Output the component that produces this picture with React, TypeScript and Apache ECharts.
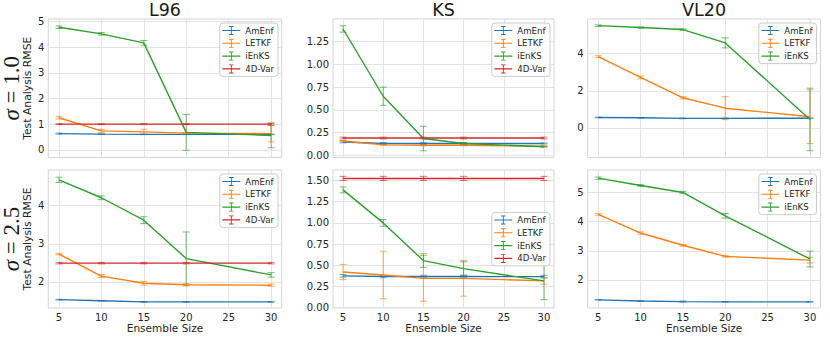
import React, { useEffect, useRef } from "react";
import * as echarts from "echarts";

const ENSEMBLE_SIZES = [5, 10, 15, 20, 30];
const METHODS = ["AmEnf", "LETKF", "iEnKS", "4D-Var"];
const COLORS = ["#1f77b4", "#ff7f0e", "#2ca02c", "#d62728"];
const X_TICKS = [5, 10, 15, 20, 25, 30];
const TITLES = ["L96", "KS", "VL20"];
const ROW_LABELS = ["1.0", "2.5"];

// L96, sigma = 1.0
const L96_S1_AMENF = [0.63, 0.61, 0.6, 0.6, 0.6];
const L96_S1_AMENF_ERR = [0.02, 0.01, 0.01, 0.01, 0.01];
const L96_S1_LETKF = [1.25, 0.74, 0.7, 0.65, 0.63];
const L96_S1_LETKF_ERR = [0.05, 0.06, 0.1, 0.03, 0.32];
const L96_S1_IENKS = [4.78, 4.52, 4.17, 0.68, 0.56];
const L96_S1_IENKS_ERR = [0.05, 0.05, 0.09, 0.7, 0.48];
const L96_S1_4DVAR = [1.0, 1.0, 1.0, 1.0, 1.0];
const L96_S1_4DVAR_ERR = [0.02, 0.02, 0.02, 0.02, 0.04];

// KS, sigma = 1.0
const KS_S1_AMENF = [0.147, 0.13, 0.13, 0.13, 0.13];
const KS_S1_AMENF_ERR = [0.01, 0.01, 0.01, 0.01, 0.005];
const KS_S1_LETKF = [0.158, 0.115, 0.11, 0.11, 0.1];
const KS_S1_LETKF_ERR = [0.005, 0.005, 0.005, 0.005, 0.005];
const KS_S1_IENKS = [1.39, 0.65, 0.185, 0.13, 0.095];
const KS_S1_IENKS_ERR = [0.035, 0.1, 0.135, 0.01, 0.005];
const KS_S1_4DVAR = [0.19, 0.19, 0.19, 0.19, 0.19];
const KS_S1_4DVAR_ERR = [0.01, 0.01, 0.01, 0.01, 0.01];

// VL20, sigma = 1.0
const VL20_S1_AMENF = [0.56, 0.54, 0.51, 0.51, 0.52];
const VL20_S1_AMENF_ERR = [0.02, 0.02, 0.02, 0.02, 0.02];
const VL20_S1_LETKF = [3.84, 2.72, 1.62, 1.06, 0.6];
const VL20_S1_LETKF_ERR = [0.05, 0.08, 0.06, 0.62, 1.45];
const VL20_S1_IENKS = [5.51, 5.41, 5.3, 4.58, 0.45];
const VL20_S1_IENKS_ERR = [0.04, 0.03, 0.04, 0.27, 1.69];

// L96, sigma = 2.5
const L96_S2_AMENF = [1.53, 1.5, 1.47, 1.47, 1.47];
const L96_S2_AMENF_ERR = [0.01, 0.01, 0.01, 0.01, 0.01];
const L96_S2_LETKF = [2.73, 2.15, 1.96, 1.92, 1.91];
const L96_S2_LETKF_ERR = [0.02, 0.04, 0.05, 0.03, 0.03];
const L96_S2_IENKS = [4.68, 4.21, 3.62, 2.61, 2.18];
const L96_S2_IENKS_ERR = [0.07, 0.05, 0.09, 0.7, 0.06];
const L96_S2_4DVAR = [2.49, 2.49, 2.49, 2.49, 2.49];
const L96_S2_4DVAR_ERR = [0.02, 0.02, 0.02, 0.02, 0.02];

// KS, sigma = 2.5
const KS_S2_AMENF = [0.375, 0.367, 0.367, 0.367, 0.365];
const KS_S2_AMENF_ERR = [0.015, 0.015, 0.015, 0.015, 0.015];
const KS_S2_LETKF = [0.42, 0.385, 0.345, 0.345, 0.315];
const KS_S2_LETKF_ERR = [0.09, 0.28, 0.27, 0.21, 0.04];
const KS_S2_IENKS = [1.39, 1.0, 0.555, 0.46, 0.315];
const KS_S2_IENKS_ERR = [0.035, 0.04, 0.08, 0.08, 0.22];
const KS_S2_4DVAR = [1.525, 1.525, 1.525, 1.525, 1.525];
const KS_S2_4DVAR_ERR = [0.025, 0.025, 0.025, 0.025, 0.025];

// VL20, sigma = 2.5
const VL20_S2_AMENF = [1.32, 1.28, 1.26, 1.25, 1.25];
const VL20_S2_AMENF_ERR = [0.01, 0.01, 0.02, 0.01, 0.01];
const VL20_S2_LETKF = [4.25, 3.61, 3.19, 2.81, 2.68];
const VL20_S2_LETKF_ERR = [0.03, 0.04, 0.03, 0.03, 0.1];
const VL20_S2_IENKS = [5.49, 5.24, 5.0, 4.2, 2.72];
const VL20_S2_IENKS_ERR = [0.04, 0.03, 0.04, 0.08, 0.27];

// y tick values per panel
const L96_S1_YTICKS = [0, 1, 2, 3, 4, 5];
const KS_S1_YTICKS = [0, 0.25, 0.5, 0.75, 1.0, 1.25];
const VL20_S1_YTICKS = [0, 2, 4];
const L96_S2_YTICKS = [2, 3, 4];
const KS_S2_YTICKS = [0, 0.25, 0.5, 0.75, 1.0, 1.25, 1.5];
const VL20_S2_YTICKS = [2, 3, 4, 5];

const FONT = "DejaVu Sans";

type Panel = {
  row: number;
  col: number;
  ymin: number;
  ymax: number;
  yticks: number[];
  decimals: number;
  legendTop: number;
  series: { mean: number[]; err: number[] }[];
};

const PANELS: Panel[] = [
  { row: 0, col: 0, ymin: -0.3, ymax: 5.1, yticks: L96_S1_YTICKS, decimals: 0, legendTop: 23,
    series: [
      { mean: L96_S1_AMENF, err: L96_S1_AMENF_ERR },
      { mean: L96_S1_LETKF, err: L96_S1_LETKF_ERR },
      { mean: L96_S1_IENKS, err: L96_S1_IENKS_ERR },
      { mean: L96_S1_4DVAR, err: L96_S1_4DVAR_ERR },
    ] },
  { row: 0, col: 1, ymin: -0.024, ymax: 1.5, yticks: KS_S1_YTICKS, decimals: 2, legendTop: 23,
    series: [
      { mean: KS_S1_AMENF, err: KS_S1_AMENF_ERR },
      { mean: KS_S1_LETKF, err: KS_S1_LETKF_ERR },
      { mean: KS_S1_IENKS, err: KS_S1_IENKS_ERR },
      { mean: KS_S1_4DVAR, err: KS_S1_4DVAR_ERR },
    ] },
  { row: 0, col: 2, ymin: -1.6, ymax: 5.87, yticks: VL20_S1_YTICKS, decimals: 0, legendTop: 23,
    series: [
      { mean: VL20_S1_AMENF, err: VL20_S1_AMENF_ERR },
      { mean: VL20_S1_LETKF, err: VL20_S1_LETKF_ERR },
      { mean: VL20_S1_IENKS, err: VL20_S1_IENKS_ERR },
    ] },
  { row: 1, col: 0, ymin: 1.31, ymax: 4.94, yticks: L96_S2_YTICKS, decimals: 0, legendTop: 174,
    series: [
      { mean: L96_S2_AMENF, err: L96_S2_AMENF_ERR },
      { mean: L96_S2_LETKF, err: L96_S2_LETKF_ERR },
      { mean: L96_S2_IENKS, err: L96_S2_IENKS_ERR },
      { mean: L96_S2_4DVAR, err: L96_S2_4DVAR_ERR },
    ] },
  { row: 1, col: 1, ymin: -0.005, ymax: 1.625, yticks: KS_S2_YTICKS, decimals: 2, legendTop: 212.5,
    series: [
      { mean: KS_S2_AMENF, err: KS_S2_AMENF_ERR },
      { mean: KS_S2_LETKF, err: KS_S2_LETKF_ERR },
      { mean: KS_S2_IENKS, err: KS_S2_IENKS_ERR },
      { mean: KS_S2_4DVAR, err: KS_S2_4DVAR_ERR },
    ] },
  { row: 1, col: 2, ymin: 1.04, ymax: 5.77, yticks: VL20_S2_YTICKS, decimals: 0, legendTop: 174,
    series: [
      { mean: VL20_S2_AMENF, err: VL20_S2_AMENF_ERR },
      { mean: VL20_S2_LETKF, err: VL20_S2_LETKF_ERR },
      { mean: VL20_S2_IENKS, err: VL20_S2_IENKS_ERR },
    ] },
];

const COLS = [
  { left: 48.3, right: 281.7, legendRight: 278 },
  { left: 333, right: 554, legendRight: 550 },
  { left: 587.7, right: 820.5, legendRight: 816.5 },
];
const ROWS = [
  { top: 19, bottom: 157.5 },
  { top: 170, bottom: 308 },
];

const W = 830;
const H = 343;

const LEGEND_ICON =
  "path://M0,4.4L20,4.4L20,5.6L0,5.6Z M9.5,0.5L10.5,0.5L10.5,9.5L9.5,9.5Z M7.5,0L12.5,0L12.5,1L7.5,1Z M7.5,9L12.5,9L12.5,10L7.5,10Z";

function buildOption() {
  const grid: any[] = [];
  const xAxis: any[] = [];
  const yAxis: any[] = [];
  const series: any[] = [];
  const legend: any[] = [];

  PANELS.forEach((p, i) => {
    const c = COLS[p.col];
    const r = ROWS[p.row];
    grid.push({
      left: c.left,
      top: r.top,
      width: c.right - c.left,
      height: r.bottom - r.top,
      show: true,
      borderColor: "#d5d5d5",
      borderWidth: 1,
      backgroundColor: "#ffffff",
      outerBoundsMode: "none",
    });
    const bottomRow = p.row === 1;
    xAxis.push({
      type: "value",
      gridIndex: i,
      min: 3.75,
      max: 31.25,
      axisLine: { show: false },
      axisTick: { show: false, customValues: X_TICKS },
      axisLabel: {
        show: bottomRow,
        customValues: X_TICKS,
        margin: 4,
        fontSize: 10,
        color: "#262626",
        fontFamily: FONT,
      },
      splitLine: { show: true, lineStyle: { color: "#e3e3e3", width: 1 } },
      name: bottomRow ? "Ensemble Size" : "",
      nameLocation: "middle",
      nameGap: 13.5,
      nameTextStyle: { fontSize: 10.5, color: "#262626", fontFamily: FONT, verticalAlign: "top" },
    });
    yAxis.push({
      type: "value",
      gridIndex: i,
      min: p.ymin,
      max: p.ymax,
      axisLine: { show: false },
      axisTick: { show: false, customValues: p.yticks },
      axisLabel: {
        customValues: p.yticks,
        margin: 4,
        fontSize: 10,
        color: "#262626",
        fontFamily: FONT,
        formatter: (v: number) => v.toFixed(p.decimals),
      },
      splitLine: { show: true, lineStyle: { color: "#e3e3e3", width: 1 } },
      name: p.col === 0 ? "Test Analysis RMSE" : "",
      nameLocation: "middle",
      nameGap: 15,
      nameTextStyle: { fontSize: 10.8, color: "#262626", fontFamily: FONT },
    });

    const names: string[] = [];
    p.series.forEach((s, k) => {
      const color = COLORS[k];
      const name = METHODS[k];
      names.push(name);
      const errData = ENSEMBLE_SIZES.map((x, j) => [x, s.mean[j] - s.err[j], s.mean[j] + s.err[j]]);
      series.push({
        type: "custom",
        xAxisIndex: i,
        yAxisIndex: i,
        silent: true,
        z: 2,
        encode: { x: 0, y: [1, 2] },
        data: errData,
        renderItem: (_params: any, api: any) => {
          const x = api.value(0);
          const lo = api.coord([x, api.value(1)]);
          const hi = api.coord([x, api.value(2)]);
          const cap = 3.5;
          const style = { stroke: color, lineWidth: 1, opacity: 0.65, fill: null };
          return {
            type: "group",
            children: [
              { type: "line", shape: { x1: lo[0], y1: lo[1], x2: hi[0], y2: hi[1] }, style },
              { type: "line", shape: { x1: lo[0] - cap, y1: lo[1], x2: lo[0] + cap, y2: lo[1] }, style },
              { type: "line", shape: { x1: hi[0] - cap, y1: hi[1], x2: hi[0] + cap, y2: hi[1] }, style },
            ],
          };
        },
      });
      series.push({
        type: "line",
        name,
        xAxisIndex: i,
        yAxisIndex: i,
        z: 3,
        symbol: "none",
        color,
        itemStyle: { color },
        lineStyle: { color, width: 1.4 },
        data: ENSEMBLE_SIZES.map((x, j) => [x, s.mean[j]]),
      });
    });

    legend.push({
      data: names,
      orient: "vertical",
      right: W - c.legendRight,
      top: p.legendTop,
      icon: LEGEND_ICON,
      itemWidth: 20,
      itemHeight: 9,
      itemGap: 3.8,
      padding: [3, 4, 3, 2.5],
      selectedMode: false,
      backgroundColor: "rgba(255,255,255,0.85)",
      borderColor: "#cccccc",
      borderWidth: 1,
      borderRadius: 3,
      textStyle: { fontSize: 8.6, color: "#262626", fontFamily: FONT, padding: [0, 0, 0, -1] },
    });
  });

  const graphic: any[] = [];
  TITLES.forEach((t, ci) => {
    const c = COLS[ci];
    graphic.push({
      type: "text",
      x: (c.left + c.right) / 2,
      y: 10,
      style: {
        text: t,
        fontSize: 17.5,
        fontFamily: FONT,
        fill: "#1a1a1a",
        align: "center",
        verticalAlign: "middle",
      },
    });
  });
  ROW_LABELS.forEach((lab, ri) => {
    const r = ROWS[ri];
    graphic.push({
      type: "text",
      x: 11.5,
      y: (r.top + r.bottom) / 2,
      rotation: Math.PI / 2,
      style: {
        text: "{i|σ} = " + lab,
        fontSize: 23,
        fontFamily: "Liberation Serif",
        fill: "#1a1a1a",
        align: "center",
        verticalAlign: "middle",
        rich: {
          i: { fontSize: 23, fontStyle: "italic", fontFamily: "Liberation Serif", fill: "#1a1a1a" },
        },
      },
    });
  });

  return {
    animation: false,
    backgroundColor: "#ffffff",
    textStyle: { fontFamily: FONT },
    grid,
    xAxis,
    yAxis,
    series,
    legend,
    graphic,
  };
}

export default function App() {
  const ref = useRef<HTMLDivElement>(null);
  useEffect(() => {
    if (!ref.current) return;
    const chart = echarts.init(ref.current, null, { renderer: "svg" });
    chart.setOption(buildOption() as any);
    return () => chart.dispose();
  }, []);
  return (
    <div
      ref={ref}
      style={{ position: "absolute", left: 0, top: 0, width: W, height: H, background: "#fff" }}
    />
  );
}
